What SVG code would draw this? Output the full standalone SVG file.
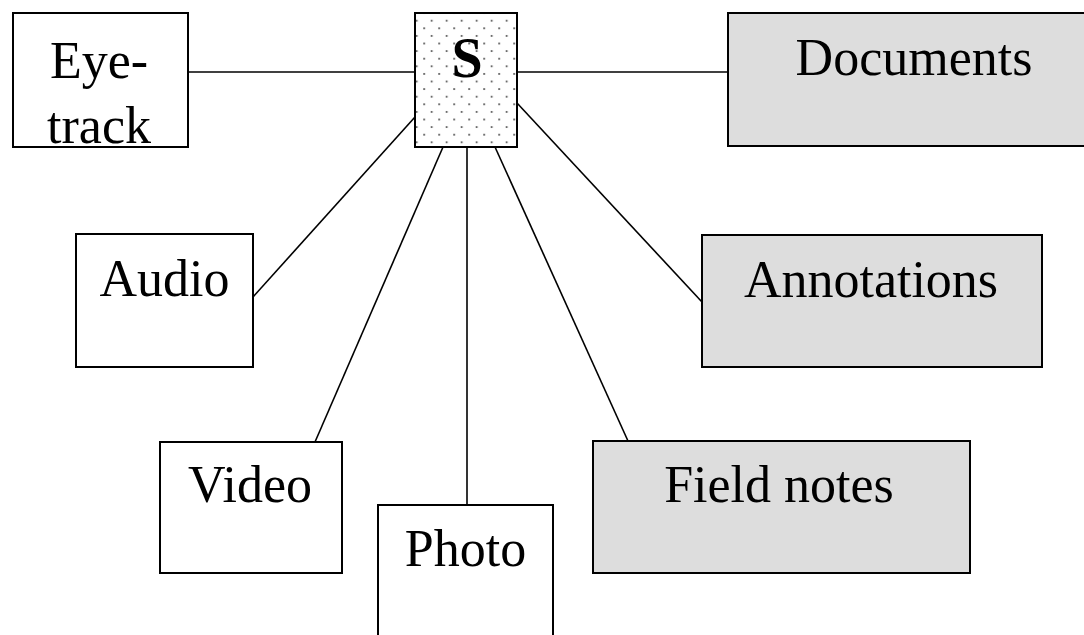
<svg xmlns="http://www.w3.org/2000/svg" width="1084" height="635" viewBox="0 0 1084 635">
  <defs>
    <!-- fine dot stipple for the central S box -->
    <pattern id="dots" patternUnits="userSpaceOnUse" x="424.2" y="13.1" width="15" height="15.2">
      <rect width="15" height="15.2" fill="#ffffff"/>
      <circle cx="7.5" cy="7.6" r="1" fill="#444"/>
      <circle cx="0" cy="0" r="1" fill="#444"/>
      <circle cx="15" cy="0" r="1" fill="#444"/>
      <circle cx="0" cy="15.2" r="1" fill="#444"/>
      <circle cx="15" cy="15.2" r="1" fill="#444"/>
    </pattern>
  </defs>
  <style>
    .box { fill: #ffffff; stroke: #000; stroke-width: 2; }
    .grey { fill: #dddddd; stroke: #000; stroke-width: 2; }
    .hub { fill: url(#dots); stroke: #000; stroke-width: 2; }
    .lbl { font-family: "Liberation Serif", "Times New Roman", serif; font-size: 52px; fill: #000; text-anchor: middle; }
    .bold { font-weight: bold; font-size: 56px; }
    .wire { stroke: #000; stroke-width: 1.6; fill: none; }
  </style>

  <rect width="1084" height="635" fill="#ffffff"/>

  <!-- connectors from the hub to each source -->
  <g id="connectors">
    <line class="wire" x1="188" y1="72" x2="415" y2="72"/>
    <line class="wire" x1="517" y1="72" x2="728" y2="72"/>
    <line class="wire" x1="415" y1="117" x2="253" y2="297"/>
    <line class="wire" x1="443" y1="147" x2="315" y2="442"/>
    <line class="wire" x1="467" y1="147" x2="467" y2="505"/>
    <line class="wire" x1="495" y1="147" x2="628" y2="441"/>
    <line class="wire" x1="517" y1="103" x2="702" y2="302"/>
  </g>

  <g id="node-eyetrack">
    <rect class="box" x="13" y="13" width="175" height="134"/>
    <text class="lbl" x="99" y="78">Eye-</text>
    <text class="lbl" x="99" y="143">track</text>
  </g>

  <g id="node-s">
    <rect class="hub" x="415" y="13" width="102" height="134"/>
    <text class="lbl bold" x="467" y="77">S</text>
  </g>

  <g id="node-documents">
    <rect class="grey" x="728" y="13" width="370" height="133"/>
    <text class="lbl" x="914" y="75">Documents</text>
  </g>

  <g id="node-audio">
    <rect class="box" x="76" y="234" width="177" height="133"/>
    <text class="lbl" x="164.5" y="296">Audio</text>
  </g>

  <g id="node-annotations">
    <rect class="grey" x="702" y="235" width="340" height="132"/>
    <text class="lbl" x="871" y="297">Annotations</text>
  </g>

  <g id="node-video">
    <rect class="box" x="160" y="442" width="182" height="131"/>
    <text class="lbl" x="250" y="502">Video</text>
  </g>

  <g id="node-photo">
    <rect class="box" x="378" y="505" width="175" height="150"/>
    <text class="lbl" x="465.5" y="566">Photo</text>
  </g>

  <g id="node-fieldnotes">
    <rect class="grey" x="593" y="441" width="377" height="132"/>
    <text class="lbl" x="779" y="502">Field notes</text>
  </g>
</svg>
